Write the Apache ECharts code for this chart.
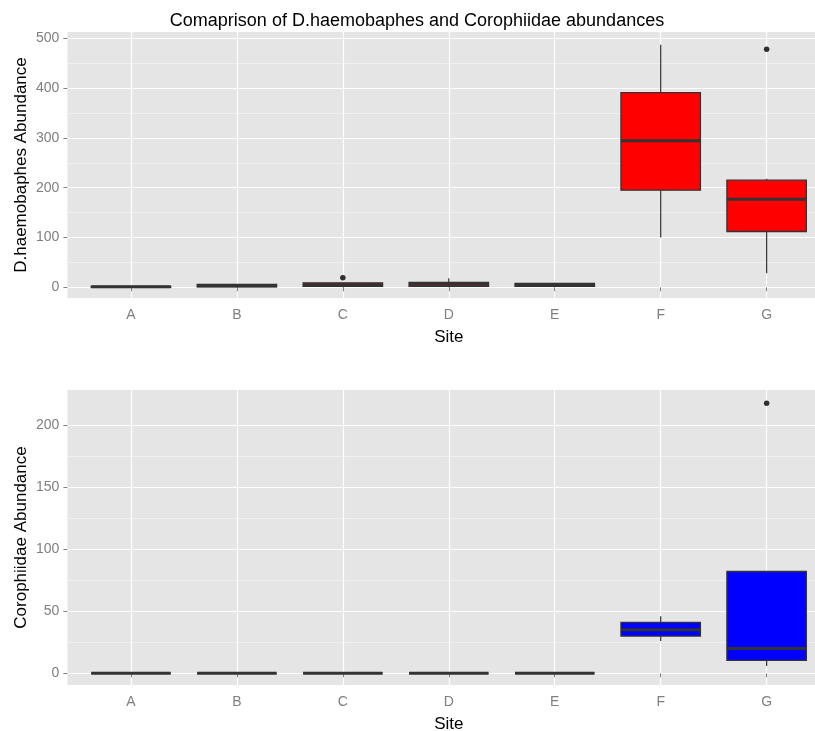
<!DOCTYPE html>
<html>
<head>
<meta charset="utf-8">
<script src="https://cdn.jsdelivr.net/npm/echarts@6/dist/echarts.min.js"></script>
<style>
  html, body { margin: 0; padding: 0; background: #ffffff; }
  #chart { width: 815px; height: 731px; }
</style>
</head>
<body>
<div id="chart"></div>
<script>
// Sampling sites along the x axis
const sites = ['A', 'B', 'C', 'D', 'E', 'F', 'G'];

// Five-number summaries per site: [lower whisker, Q1, median, Q3, upper whisker]
const dhaeStats = [
  [0, 0, 1, 2, 2],
  [0, 1, 3, 6, 6],
  [0, 2, 5, 9, 10],
  [0, 2, 6, 10, 18],
  [1, 2, 5, 8, 9],
  [100, 195, 294, 391, 487],
  [28, 112, 177, 215, 218]
];
const dhaeOutliers = [['C', 19], ['G', 478]];

const coroStats = [
  [0, 0, 0, 0, 0],
  [0, 0, 0, 0, 0],
  [0, 0, 0, 0, 0],
  [0, 0, 0, 0, 0],
  [0, 0, 0, 0, 0],
  [26, 30, 35, 41, 46],
  [6, 10.5, 20, 82, 82]
];
const coroOutliers = [['G', 217.5]];

// Axis tick values
const dhaeTicks = [0, 100, 200, 300, 400, 500];
const dhaeMinorTicks = [50, 150, 250, 350, 450];
const coroTicks = [0, 50, 100, 150, 200];
const coroMinorTicks = [25, 75, 125, 175];

const sitePositions = sites.map((s, i) => i + 1);
const PANEL = '#E5E5E5';
const GREY = '#7F7F7F';
const INK = '#333333';

// Draws a ggplot-style box: whiskers without caps, filled box, thick median
function boxRenderer(fill) {
  return function (params, api) {
    const x = api.value(0);
    const lo = api.coord([x, api.value(1)]);
    const q1 = api.coord([x, api.value(2)]);
    const med = api.coord([x, api.value(3)]);
    const q3 = api.coord([x, api.value(4)]);
    const hi = api.coord([x, api.value(5)]);
    const half = api.size([0.75, 0])[0] / 2;
    return {
      type: 'group',
      children: [
        { type: 'line', shape: { x1: lo[0], y1: lo[1], x2: q1[0], y2: q1[1] },
          style: { stroke: INK, lineWidth: 1.2 } },
        { type: 'line', shape: { x1: q3[0], y1: q3[1], x2: hi[0], y2: hi[1] },
          style: { stroke: INK, lineWidth: 1.2 } },
        { type: 'rect', shape: { x: q1[0] - half, y: q3[1], width: half * 2, height: q1[1] - q3[1] },
          style: { fill: fill, stroke: INK, lineWidth: 1.3 } },
        { type: 'line', shape: { x1: med[0] - half, y1: med[1], x2: med[0] + half, y2: med[1] },
          style: { stroke: INK, lineWidth: 3 } }
      ]
    };
  };
}

function xAxisFor(gridIndex) {
  return {
    type: 'value', gridIndex: gridIndex, min: 0.4, max: 7.6, position: 'bottom',
    name: 'Site', nameLocation: 'middle', nameGap: 31, nameMoveOverlap: false,
    nameTextStyle: { color: '#000000', fontSize: 17, fontFamily: 'Liberation Sans' },
    axisLine: { show: false },
    axisTick: { show: true, customValues: sitePositions, length: 4, lineStyle: { color: GREY, width: 1 } },
    axisLabel: { customValues: sitePositions, margin: 10, color: GREY, fontSize: 14,
      fontFamily: 'Liberation Sans', formatter: v => sites[Math.round(v) - 1] },
    splitLine: { show: true, lineStyle: { color: '#FFFFFF', width: 1.2 } }
  };
}

function yAxisFor(gridIndex, min, max, ticks, title) {
  return {
    type: 'value', gridIndex: gridIndex, min: min, max: max, position: 'left',
    name: title, nameLocation: 'middle', nameGap: 38, nameMoveOverlap: false,
    nameTextStyle: { color: '#000000', fontSize: 17, fontFamily: 'Liberation Sans' },
    axisLine: { show: false },
    axisTick: { show: true, customValues: ticks, length: 4, lineStyle: { color: GREY, width: 1 } },
    axisLabel: { customValues: ticks, margin: 8, color: GREY, fontSize: 14, fontFamily: 'Liberation Sans' },
    splitLine: { show: true, lineStyle: { color: '#FFFFFF', width: 1.2 } }
  };
}

// Hidden companion axis that only draws the minor grid lines
function minorYAxisFor(gridIndex, min, max, ticks) {
  return {
    type: 'value', gridIndex: gridIndex, min: min, max: max, position: 'right',
    axisLine: { show: false },
    axisTick: { show: false, customValues: ticks },
    axisLabel: { show: false, customValues: ticks },
    splitLine: { show: true, lineStyle: { color: '#F2F2F2', width: 0.8 } }
  };
}

const chart = echarts.init(document.getElementById('chart'), null, { renderer: 'canvas' });

chart.setOption({
  animation: false,
  backgroundColor: '#FFFFFF',
  title: {
    text: 'Comaprison of D.haemobaphes and Corophiidae abundances',
    left: 412, top: 7, textAlign: 'center',
    textStyle: { color: '#000000', fontSize: 18, fontWeight: 'normal', fontFamily: 'Liberation Sans' }
  },
  grid: [
    { left: 67.4, top: 32, width: 762.8, height: 266, show: true, backgroundColor: PANEL,
      borderWidth: 0, containLabel: false, outerBoundsMode: 'none' },
    { left: 67.4, top: 390, width: 762.8, height: 295, show: true, backgroundColor: PANEL,
      borderWidth: 0, containLabel: false, outerBoundsMode: 'none' }
  ],
  xAxis: [xAxisFor(0), xAxisFor(1)],
  yAxis: [
    yAxisFor(0, -21.5, 512.6, dhaeTicks, 'D.haemobaphes Abundance'),
    minorYAxisFor(0, -21.5, 512.6, dhaeMinorTicks),
    yAxisFor(1, -9.4, 228.2, coroTicks, 'Corophiidae Abundance'),
    minorYAxisFor(1, -9.4, 228.2, coroMinorTicks)
  ],
  series: [
    {
      type: 'custom', xAxisIndex: 0, yAxisIndex: 0,
      renderItem: boxRenderer('#FF0000'),
      encode: { x: 0, y: [1, 2, 3, 4, 5] },
      data: dhaeStats.map((s, i) => [i + 1].concat(s)),
      z: 3
    },
    {
      type: 'scatter', xAxisIndex: 0, yAxisIndex: 0,
      symbol: 'circle', symbolSize: 5.5,
      itemStyle: { color: '#000000' },
      data: dhaeOutliers.map(([s, v]) => [sites.indexOf(s) + 1, v]),
      z: 4
    },
    {
      type: 'custom', xAxisIndex: 1, yAxisIndex: 2,
      renderItem: boxRenderer('#0000FF'),
      encode: { x: 0, y: [1, 2, 3, 4, 5] },
      data: coroStats.map((s, i) => [i + 1].concat(s)),
      z: 3
    },
    {
      type: 'scatter', xAxisIndex: 1, yAxisIndex: 2,
      symbol: 'circle', symbolSize: 5.5,
      itemStyle: { color: '#000000' },
      data: coroOutliers.map(([s, v]) => [sites.indexOf(s) + 1, v]),
      z: 4
    }
  ]
});
</script>
</body>
</html>
